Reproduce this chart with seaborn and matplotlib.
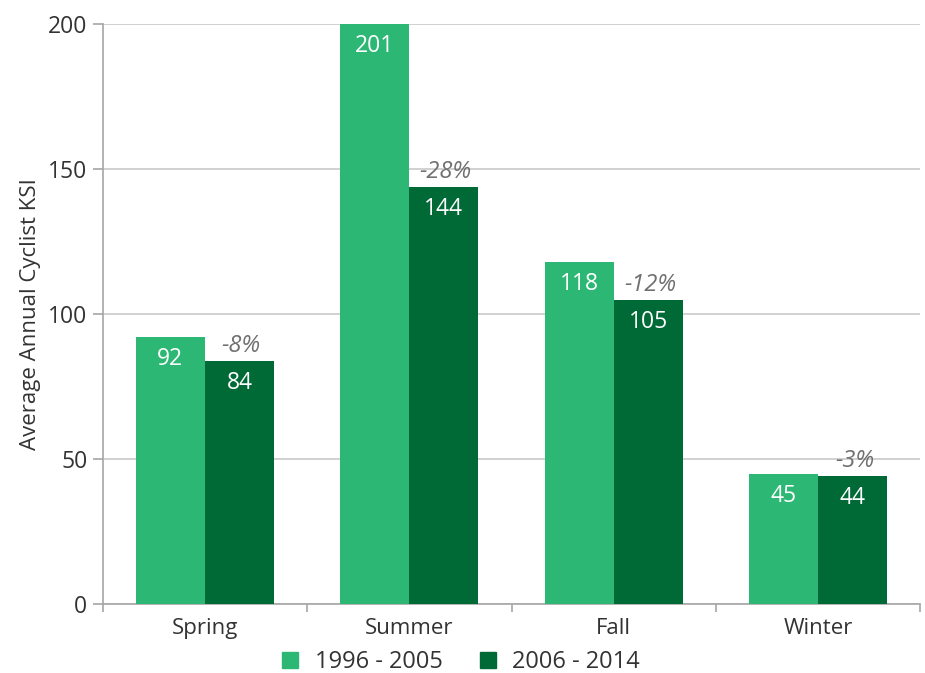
import matplotlib
matplotlib.use("Agg")
import matplotlib.pyplot as plt
import matplotlib.transforms as mtransforms
from matplotlib.lines import Line2D
import numpy as np
import pandas as pd
import seaborn as sns

seasons = ['Spring', 'Summer', 'Fall', 'Winter']
periods = ['1996 - 2005', '2006 - 2014']
ksi_1996_2005 = [92, 201, 118, 45]
ksi_2006_2014 = [84, 144, 105, 44]
pct_change = ['-8%', '-28%', '-12%', '-3%']

LIGHT = '#2cb874'
DARK = '#006a37'
GRID = '#c9c9c9'
AXIS = '#a6a6a6'
TEXT = '#333333'

df = pd.DataFrame({
    'season': seasons * 2,
    'period': [periods[0]] * 4 + [periods[1]] * 4,
    'ksi': ksi_1996_2005 + ksi_2006_2014,
})

sns.set_style('white')
plt.rcParams['font.family'] = ['Open Sans', 'DejaVu Sans']

fig = plt.figure(figsize=(9.25, 6.73), dpi=100)
ax = fig.add_axes([0.111, 0.1025, 0.884, 0.8615])

sns.barplot(data=df, x='season', y='ksi', hue='period', order=seasons,
            hue_order=periods, palette=[LIGHT, DARK], width=0.675,
            saturation=1, errorbar=None, legend=False, linewidth=0,
            ax=ax, zorder=3)

ymax = 200
ax.set_ylim(0, ymax)
ax.set_xlim(-0.5, len(seasons) - 0.5)
ax.set_yticks([0, 50, 100, 150, 200])
ax.yaxis.grid(True, color=GRID, linewidth=1.2, zorder=0)
ax.set_axisbelow(True)

for side in ['top', 'right']:
    ax.spines[side].set_visible(False)
for side in ['left', 'bottom']:
    ax.spines[side].set_color(AXIS)
    ax.spines[side].set_linewidth(1.2)

ax.tick_params(axis='y', length=7, width=1.2, color=AXIS, labelsize=16.5,
               labelcolor=TEXT, left=True, pad=4)
ax.tick_params(axis='x', which='major', length=0, labelsize=16,
               labelcolor=TEXT, pad=10)
ax.set_xticks(np.arange(-0.5, len(seasons), 1.0), minor=True)
ax.tick_params(axis='x', which='minor', length=6, width=1.2, color=AXIS,
               bottom=True)
ax.set_xlabel('')
ax.set_ylabel('Average Annual Cyclist KSI', fontsize=16, color=TEXT,
              labelpad=5)

# value labels inside bars, near top
for container, values in zip(ax.containers, [ksi_1996_2005, ksi_2006_2014]):
    for bar, v in zip(container, values):
        x = bar.get_x() + bar.get_width() / 2
        off = mtransforms.offset_copy(ax.transData, fig=fig, x=0, y=-10,
                                      units='dots')
        ax.text(x, min(v, ymax), str(v), transform=off, ha='center',
                va='top', color='white', fontsize=16.5, zorder=5)

# percent change above the dark bar
for bar, v, p in zip(ax.containers[1], ksi_2006_2014, pct_change):
    x = bar.get_x() + bar.get_width() / 2
    off = mtransforms.offset_copy(ax.transData, fig=fig, x=2, y=3,
                                  units='dots')
    ax.text(x, v, p, transform=off, ha='center', va='bottom',
            color='#707070', fontsize=17, style='italic', zorder=5)

handles = [Line2D([], [], marker='s', linestyle='', markersize=12,
                  markerfacecolor=c, markeredgecolor=c)
           for c in [LIGHT, DARK]]
fig.legend(handles, periods, loc='center', bbox_to_anchor=(0.49, 0.016),
           ncol=2, frameon=False, fontsize=17, handletextpad=0.05,
           columnspacing=0.9, labelcolor=TEXT)

fig.savefig('out.png', dpi=100)
